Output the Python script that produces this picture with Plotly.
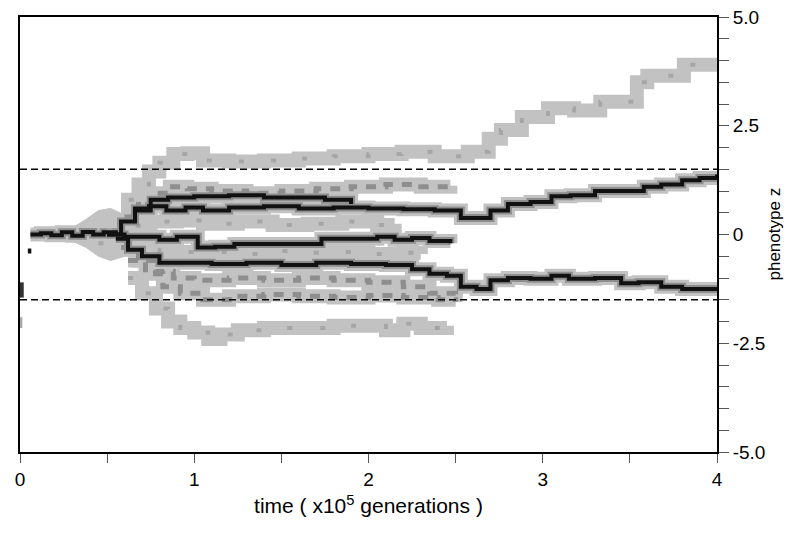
import plotly.graph_objects as go

# ---- data: lineages (time in 1e5 generations, phenotype z) ----
trunk_t = [0.06, 0.12, 0.18, 0.24, 0.30, 0.36, 0.42, 0.48, 0.55]
trunk_z = [0.0, 0.03, -0.02, 0.05, -0.03, 0.06, 0.0, 0.05, -0.02]

top_t = [0.56, 0.62, 0.68, 0.74, 0.80, 0.88, 0.96, 1.05, 1.2, 1.4, 1.6, 1.8, 2.0, 2.19,
         2.38, 2.57, 2.69, 2.76, 2.88, 3.03, 3.18, 3.33, 3.54, 3.6, 3.81, 4.0]
top_z = [0.3, 0.8, 1.15, 1.45, 1.65, 1.85, 1.87, 1.7, 1.68, 1.7, 1.75, 1.8, 1.85, 1.9,
         1.8, 1.9, 2.2, 2.4, 2.7, 2.9, 2.85, 3.05, 3.5, 3.65, 3.9, 3.95]

rowa_t = [0.6, 0.68, 0.76, 0.86, 0.96, 1.1, 1.3, 1.5, 1.7, 1.9, 2.1, 2.3, 2.47]
rowa_z = [0.4, 0.75, 0.95, 1.1, 1.05, 1.0, 0.95, 1.0, 1.05, 1.1, 1.15, 1.1, 1.12]

rowb2_t = [0.66, 0.75, 0.85, 1.0, 1.2, 1.4, 1.6, 1.75, 1.9]
rowb2_z = [0.55, 0.8, 0.85, 0.88, 0.9, 0.85, 0.85, 0.8, 0.7]

main_up_t = [0.5, 0.58, 0.66, 0.74, 0.84, 0.95, 1.05, 1.2, 1.4, 1.6, 1.8, 2.0, 2.2, 2.38,
             2.53, 2.7, 2.8, 2.93, 3.05, 3.16, 3.3, 3.45, 3.58, 3.68, 3.8, 3.9, 4.0]
main_up_z = [0.0, 0.3, 0.6, 0.65, 0.55, 0.62, 0.55, 0.62, 0.65, 0.6, 0.62, 0.6, 0.58, 0.55,
             0.38, 0.55, 0.7, 0.75, 0.88, 0.9, 1.0, 1.0, 1.1, 1.15, 1.25, 1.3, 1.38]

rowc_t = [0.5, 0.62, 0.75, 0.9, 1.05, 1.25, 1.45, 1.65, 1.85, 2.05, 2.15]
rowc_z = [0.1, 0.2, 0.3, 0.32, 0.25, 0.3, 0.22, 0.25, 0.3, 0.22, 0.25]

center_t = [0.5, 0.6, 0.7, 0.8, 0.9, 1.02, 1.12, 1.23, 1.4, 1.6, 1.73, 1.9, 2.05, 2.15, 2.25,
            2.35, 2.47]
center_z = [0.0, -0.05, -0.05, -0.12, -0.05, -0.3, -0.28, -0.22, -0.22, -0.22, -0.1, -0.1,
            -0.05, -0.12, -0.08, -0.15, -0.2]

rowd_t = [0.45, 0.55, 0.65, 0.8, 1.0, 1.2, 1.4, 1.6, 1.8, 2.0, 2.2, 2.3]
rowd_z = [-0.2, -0.3, -0.35, -0.4, -0.4, -0.45, -0.38, -0.42, -0.4, -0.45, -0.42, -0.45]

main_low_t = [0.55, 0.62, 0.7, 0.8, 0.95, 1.1, 1.3, 1.5, 1.7, 1.9, 2.1, 2.25, 2.35, 2.45,
              2.53, 2.62, 2.7, 2.8, 2.93, 3.05, 3.15, 3.3, 3.45, 3.55, 3.68, 3.8, 4.0]
main_low_z = [-0.1, -0.35, -0.5, -0.65, -0.65, -0.68, -0.65, -0.7, -0.65, -0.68, -0.7, -0.8,
              -0.9, -0.95, -1.2, -1.25, -1.05, -1.0, -1.02, -0.95, -1.02, -1.0, -1.12, -1.1,
              -1.2, -1.25, -1.27]

rowf_t = [0.58, 0.68, 0.78, 0.88, 1.0, 1.2, 1.4, 1.6, 1.8, 2.0, 2.2, 2.35, 2.5]
rowf_z = [-0.3, -0.6, -0.85, -1.0, -1.05, -1.0, -1.05, -1.0, -1.05, -1.1, -1.2, -1.35, -1.45]

rowg_t = [0.62, 0.72, 0.82, 0.92, 1.05, 1.2, 1.4, 1.6, 1.8, 2.0, 2.2, 2.4, 2.5]
rowg_z = [-0.6, -0.9, -1.2, -1.35, -1.5, -1.42, -1.38, -1.42, -1.45, -1.4, -1.45, -1.5, -1.55]

bottom_t = [0.62, 0.7, 0.78, 0.85, 0.92, 1.0, 1.08, 1.15, 1.25, 1.4, 1.6, 1.8, 2.0, 2.1,
            2.2, 2.3, 2.45]
bottom_z = [-1.0, -1.35, -1.7, -2.0, -2.15, -2.25, -2.4, -2.3, -2.2, -2.15, -2.15, -2.1,
            -2.1, -2.2, -2.05, -2.15, -2.1]

blob_t = [0.3, 0.38, 0.45, 0.52, 0.6]
blob_hi = [0.15, 0.35, 0.55, 0.6, 0.45]
blob_lo = [-0.15, -0.3, -0.5, -0.6, -0.5]

mark1_t, mark1_z = [0.045, 0.065], [-0.38, -0.38]
mark2_t, mark2_z = [0.01, 0.01], [-1.1, -1.45]
mark3_t, mark3_z = [0.005, 0.005], [-1.9, -2.15]

threshold = 1.5
x_ticks = [0, 0.5, 1, 1.5, 2, 2.5, 3, 3.5, 4]
x_text = ["0", "", "1", "", "2", "", "3", "", "4"]
y_ticks = [-5, -4.5, -4, -3.5, -3, -2.5, -2, -1.5, -1, -0.5, 0, 0.5, 1, 1.5, 2, 2.5, 3, 3.5,
           4, 4.5, 5]
y_text = ["-5.0", "", "", "", "", "-2.5", "", "", "", "", "0", "", "", "", "", "2.5", "", "",
          "", "", "5.0"]
x_title = "time ( x10<sup>5</sup> generations )"
y_title = "phenotype z"

# lineage -> rendering level
lineages = [
    (trunk_t, trunk_z, "dark"),
    (top_t, top_z, "light"),
    (rowa_t, rowa_z, "mixed"),
    (rowc_t, rowc_z, "light"),
    (rowd_t, rowd_z, "light"),
    (rowf_t, rowf_z, "mixed"),
    (rowg_t, rowg_z, "mixed"),
    (bottom_t, bottom_z, "light"),
    (rowb2_t, rowb2_z, "dark"),
    (center_t, center_z, "dark"),
    (main_up_t, main_up_z, "dark"),
    (main_low_t, main_low_z, "dark"),
]

LIGHT = "#c2c2c2"
MID = "#8e8e8e"
DARK = "#111111"

fig = go.Figure()

def add(t, z, color, width, dash="solid"):
    fig.add_trace(go.Scatter(x=t, y=z, mode="lines",
                             line=dict(color=color, width=width, shape="hv", dash=dash),
                             hoverinfo="skip", showlegend=False))

# grey halo around the branching point
fig.add_trace(go.Scatter(x=blob_t + blob_t[::-1], y=blob_hi + blob_lo[::-1], mode="lines",
                         fill="toself", fillcolor=LIGHT, line=dict(color=LIGHT, width=1),
                         hoverinfo="skip", showlegend=False))

for t, z, lvl in lineages:
    add(t, z, LIGHT, 14)
for t, z, lvl in lineages:
    if lvl == "light":
        add(t, z, "#a6a6a6", 4, "5px,28px")
    elif lvl == "mixed":
        add(t, z, MID, 5, "10px,9px")
    else:
        add(t, z, MID, 8)
for t, z, lvl in lineages:
    if lvl == "dark":
        add(t, z, DARK, 4)

add(mark1_t, mark1_z, DARK, 5)
add(mark2_t, mark2_z, "#333333", 4)
add(mark3_t, mark3_z, "#aaaaaa", 3)

for yv in (threshold, -threshold):
    fig.add_shape(type="line", xref="x", yref="y", x0=0, x1=4, y0=yv, y1=yv,
                  line=dict(color="black", width=1.6, dash="7px,4px"))

fig.add_annotation(text=y_title, xref="paper", yref="paper", x=1, y=0.5, xanchor="center",
                   yanchor="middle", xshift=57, textangle=-90, showarrow=False,
                   font=dict(size=17))

font = "Liberation Sans, Arial, sans-serif"
fig.update_layout(
    width=795, height=534,
    margin=dict(l=12, r=86, t=9, b=90),
    paper_bgcolor="white", plot_bgcolor="white",
    font=dict(family=font, size=17.5, color="black"),
    xaxis=dict(range=[0, 4], tickvals=x_ticks, ticktext=x_text, ticks="outside",
               ticklen=9, tickwidth=1, tickcolor="#555", showgrid=False, zeroline=False,
               showline=True, linecolor="black", linewidth=1.8, mirror=True,
               automargin=False, ticklabeloverflow="allow",
               title=dict(text=x_title, standoff=10),
               tickfont=dict(size=19)),
    yaxis=dict(range=[-5, 5], side="right", tickvals=y_ticks, ticktext=y_text,
               ticks="outside", ticklen=10, tickwidth=1, tickcolor="#555", showgrid=False,
               zeroline=False, showline=True, linecolor="black", linewidth=1.8, mirror=True,
               automargin=False, ticklabeloverflow="allow",
               tickfont=dict(size=19)),
)

fig.write_html("out.html")
